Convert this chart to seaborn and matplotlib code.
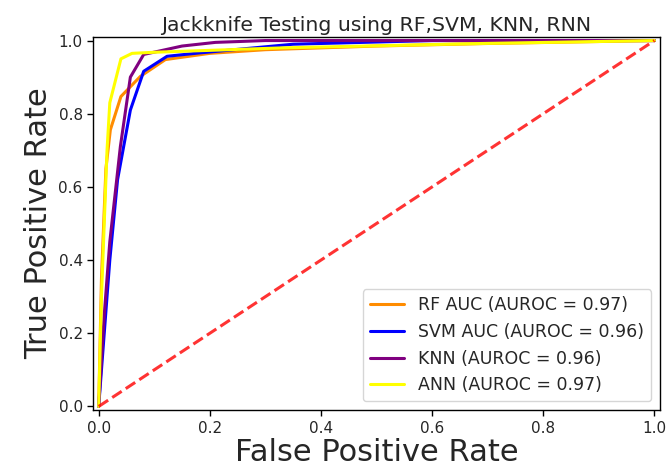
import numpy as np
import pandas as pd
import matplotlib
matplotlib.use("Agg")
import matplotlib.pyplot as plt
import seaborn as sns

# ROC curves
rf_fpr = [0.0, 0.005, 0.013, 0.021, 0.04, 0.075, 0.12, 0.2, 0.3, 0.5, 0.7, 1.0]
rf_tpr = [0.0, 0.35, 0.65, 0.756, 0.847, 0.902, 0.948, 0.965, 0.975, 0.985, 0.992, 1.0]

svm_fpr = [0.0, 0.01, 0.02, 0.034, 0.057, 0.081, 0.123, 0.18, 0.35, 0.6, 1.0]
svm_tpr = [0.0, 0.2, 0.4, 0.62, 0.81, 0.916, 0.957, 0.966, 0.99, 1.0, 1.0]

knn_fpr = [0.0, 0.01, 0.02, 0.039, 0.057, 0.081, 0.15, 0.21, 0.3, 1.0]
knn_tpr = [0.0, 0.25, 0.45, 0.71, 0.90, 0.962, 0.985, 0.995, 1.0, 1.0]

ann_fpr = [0.0, 0.005, 0.015, 0.02, 0.04, 0.06, 0.1, 0.33, 0.69, 1.0]
ann_tpr = [0.0, 0.3, 0.70, 0.83, 0.95, 0.965, 0.968, 0.98, 0.992, 1.0]

labels = ["RF AUC (AUROC = 0.97)", "SVM AUC (AUROC = 0.96)",
          "KNN (AUROC = 0.96)", "ANN (AUROC = 0.97)"]
colors = ["darkorange", "blue", "purple", "yellow"]

sns.set_style("white")
plt.rcParams["font.family"] = ["DejaVu Sans"]

fig, ax = plt.subplots(figsize=(6.70, 4.73), dpi=100)
fig.subplots_adjust(left=0.139, right=0.985, top=0.922, bottom=0.133)

series = [(rf_fpr, rf_tpr), (svm_fpr, svm_tpr), (knn_fpr, knn_tpr), (ann_fpr, ann_tpr)]
for (f, t), lab, c in zip(series, labels, colors):
    df = pd.DataFrame({"fpr": f, "tpr": t})
    sns.lineplot(data=df, x="fpr", y="tpr", ax=ax, color=c, lw=2.2,
                 label=lab, sort=False, estimator=None)

ax.plot([0, 1], [0, 1], linestyle="--", lw=2.2, color="red", alpha=0.8)

ax.set_xlim(-0.01, 1.01)
ax.set_ylim(-0.01, 1.01)
ax.set_title("Jackknife Testing using RF,SVM, KNN, RNN", fontsize=14.7, pad=4)
ax.set_xlabel("False Positive Rate", fontsize=22, labelpad=2)
ax.set_ylabel("True Positive Rate", fontsize=22, labelpad=4)
ax.tick_params(axis="both", labelsize=11, length=4, width=1, left=True, bottom=True,
               color="black")
for s in ax.spines.values():
    s.set_color("black")
    s.set_linewidth(1.0)
ax.legend(loc="lower right", fontsize=12.5)

fig.savefig("out.png", dpi=100)
